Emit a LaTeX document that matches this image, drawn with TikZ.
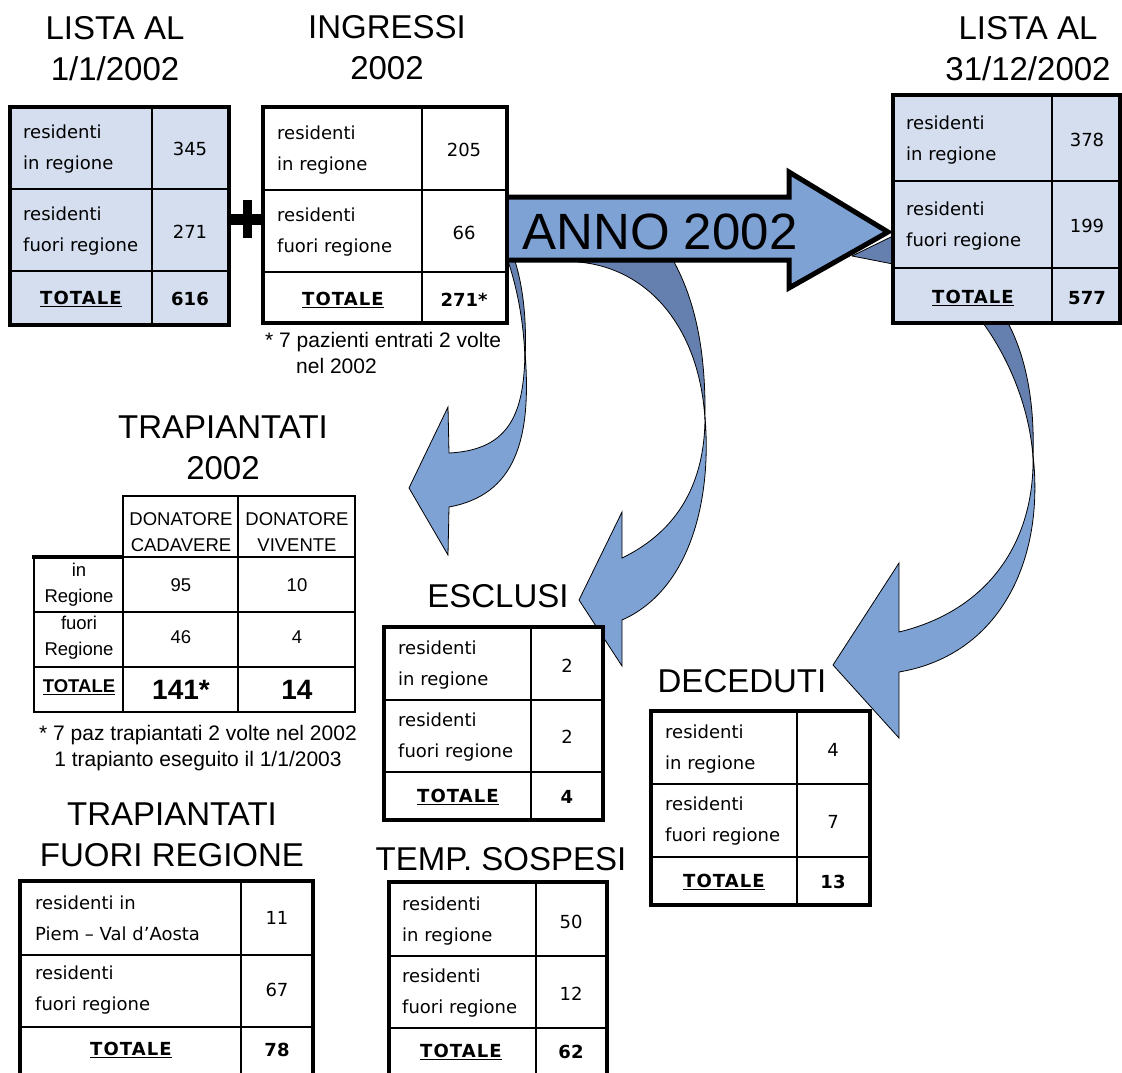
\documentclass[tikz,border=0pt]{standalone}
\usepackage{fontspec}
\setmainfont{Liberation Sans}
\newfontfamily\tabfont{DejaVu Sans}
\newfontfamily\totfont{DejaVu Sans}[LetterSpace=6]
\usetikzlibrary{calc}

\definecolor{tablefill}{HTML}{D4DEEF}
\definecolor{arrowblue}{HTML}{7FA2D5}
\definecolor{arrowdark}{HTML}{6580AE}

\begin{document}
\begin{tikzpicture}[x=1pt, y=-1pt]

\useasboundingbox (0, 0) rectangle (1122, 1073) ;

\tikzstyle{table border} = [line width=4pt, draw=black]
\tikzstyle{table rule} = [line width=1.5pt, draw=black]
\tikzstyle{trap rule} = [line width=2.5pt, draw=black]
\tikzstyle{title text} = [font=\fontsize{33}{41}\selectfont, align=center, inner sep=0pt]
\tikzstyle{cell text} = [font=\tabfont\fontsize{18}{31}\selectfont, align=left, anchor=west, inner sep=0pt]
\tikzstyle{cell number} = [font=\tabfont\fontsize{18}{18}\selectfont, inner sep=0pt]
\tikzstyle{cell total} = [font=\totfont\bfseries\fontsize{18}{18}\selectfont, inner sep=0pt]
\tikzstyle{total number} = [font=\tabfont\bfseries\fontsize{18}{18}\selectfont, inner sep=0pt]
\tikzstyle{trap text} = [font=\fontsize{18.5}{26}\selectfont, align=center, inner sep=0pt]
\tikzstyle{note text} = [font=\fontsize{21}{25.5}\selectfont, inner sep=0pt]

% curved arrows

\tikzstyle{bend back} = [fill=arrowdark, draw=black, line width=0.8pt, line join=round]
\tikzstyle{bend front} = [fill=arrowblue, draw=black, line width=0.8pt, line join=miter]

\filldraw [bend back] (507, 258) .. controls (518, 290) and (524, 325) .. (525, 360)
	.. controls (527, 320) and (523, 285) .. (514, 258) -- cycle ;
\filldraw [bend front] (525, 352) .. controls (524, 410) and (512, 450) .. (449, 453)
	-- (448, 407) -- (409, 488) -- (448, 555) -- (449, 507)
	.. controls (515, 495) and (532, 440) .. (525, 352) -- cycle ;

\filldraw [bend back] (578, 262) .. controls (650, 268) and (700, 330) .. (705, 420)
	.. controls (706, 350) and (695, 300) .. (673, 260) -- cycle ;
\filldraw [bend front] (705, 417) .. controls (705, 480) and (680, 530) .. (622, 558)
	-- (622, 512) -- (579, 600) -- (622, 666) -- (622, 620)
	.. controls (690, 590) and (712, 500) .. (705, 417) -- cycle ;

\filldraw [bend back] (983, 323) .. controls (1010, 360) and (1030, 410) .. (1033, 458)
	.. controls (1035, 400) and (1025, 355) .. (1008, 323) -- cycle ;
\filldraw [bend front] (1033, 455) .. controls (1035, 540) and (990, 610) .. (899, 632)
	-- (899, 563) -- (833, 665) -- (899, 738) -- (899, 672)
	.. controls (1000, 655) and (1045, 560) .. (1033, 455) -- cycle ;

\filldraw [bend back] (852, 256) -- (893, 264) -- (893, 236) -- cycle ;

% year arrow

\tikzstyle{year arrow} = [fill=arrowblue, draw=black, line width=5pt, line join=miter]

\filldraw [year arrow] (505, 197) -- (789, 197) -- (789, 172) -- (888, 232)
	-- (789, 288) -- (789, 260) -- (505, 260) -- cycle ;

\node [font=\fontsize{51}{51}\selectfont, inner sep=0pt] (anno) at (660, 232) {ANNO 2002} ;

% plus

\fill (229, 214) rectangle (263, 225) ;
\fill (243, 200) rectangle (252, 238) ;

% tables of residents

\newcommand{\residentgrid}[8]{
	\filldraw [table rule, fill=#1] (#2, #3) rectangle (#4, #8) ;
	\draw [table rule] (#5, #3) -- (#5, #8) ;
	\draw [table rule] (#2, #6) -- (#4, #6) ;
	\draw [table rule] (#2, #7) -- (#4, #7) ;
	\draw [table border] (#2, #3) rectangle (#4, #8) ;
}

\residentgrid{tablefill}{10}{107}{229}{152}{189}{271}{325}
\residentgrid{white}{263}{107}{507}{422}{190}{272}{323}
\residentgrid{tablefill}{893}{95}{1120}{1052}{181}{268}{323}
\residentgrid{white}{384}{627}{603}{531}{700}{772}{820}
\residentgrid{white}{651}{711}{870}{797}{784}{857}{905}
\residentgrid{white}{20}{881}{313}{241}{955}{1027}{1095}
\residentgrid{white}{389}{882}{607}{536}{956}{1028}{1095}

\foreach \tab/\xl/\xn/\xt/\ya/\yb/\yt/\na/\nb/\nt in {
		lista1/23/190/81/149/231.5/299/345/271/616,
		ingressi/277/464/343/150/232.5/300/205/66/271*,
		lista2/906/1087/973/140/226/298/378/199/577,
		esclusi/398/567/458/665.5/737/797/2/2/4,
		deceduti/665/833/724/749.5/821.5/882/4/7/13,
		sospesi/402/571/461/921.5/993.5/1052/50/12/62} {
	\node [cell text] (\tab-in) at (\xl, \ya) {residenti\\in regione} ;
	\node [cell text] (\tab-out) at (\xl, \yb) {residenti\\fuori regione} ;
	\node [cell total] (\tab-tot) at (\xt, \yt) {\underline{TOTALE}} ;
	\node [cell number] (\tab-in-n) at (\xn, \ya) {\na} ;
	\node [cell number] (\tab-out-n) at (\xn, \yb) {\nb} ;
	\node [total number] (\tab-tot-n) at (\xn, \yt) {\nt} ;
}

\node [cell text] (fuorireg-in) at (35, 918) {residenti in\\Piem – Val d’Aosta} ;
\node [cell text] (fuorireg-out) at (35, 990.5) {residenti\\fuori regione} ;
\node [cell total] (fuorireg-tot) at (131, 1050) {\underline{TOTALE}} ;
\node [cell number] (fuorireg-in-n) at (277, 918) {11} ;
\node [cell number] (fuorireg-out-n) at (277, 990) {67} ;
\node [total number] (fuorireg-tot-n) at (277, 1050) {78} ;

% titles

\node [title text] (lista1-title) at (115, 49) {LISTA AL\\1/1/2002} ;
\node [title text] (ingressi-title) at (387, 47.5) {INGRESSI\\2002} ;
\node [title text] (lista2-title) at (1028, 49) {LISTA AL\\31/12/2002} ;
\node [title text] (trap-title) at (223, 448) {TRAPIANTATI\\2002} ;
\node [title text] (fuorireg-title) at (172, 835) {TRAPIANTATI\\FUORI REGIONE} ;
\node [title text] (esclusi-title) at (498, 596) {ESCLUSI} ;
\node [title text] (deceduti-title) at (742, 681) {DECEDUTI} ;
\node [title text] (sospesi-title) at (501, 859) {TEMP. SOSPESI} ;

% notes

\node [note text, align=left, anchor=west] (ingressi-note) at (265, 353)
	{* 7 pazienti entrati 2 volte\\\hspace*{31pt}nel 2002} ;
\node [note text, align=center] (trap-note) at (198, 748)
	{* 7 paz trapiantati 2 volte nel 2002\\1 trapianto eseguito il 1/1/2003} ;

% transplants table

\draw [trap rule] (123, 496) rectangle (355, 712) ;
\draw [trap rule] (34, 557) rectangle (123, 712) ;
\draw [trap rule] (238, 496) -- (238, 712) ;
\draw [trap rule] (123, 557) -- (355, 557) ;
\draw [trap rule] (34, 612) -- (355, 612) ;
\draw [trap rule] (34, 667) -- (355, 667) ;
\draw [line width=4.5pt] (32, 557) -- (123, 557) ;

\node [trap text] (trap-cad) at (181, 532) {DONATORE\\CADAVERE} ;
\node [trap text] (trap-viv) at (297, 532) {DONATORE\\VIVENTE} ;
\node [trap text] (trap-in) at (79, 585) {in\\Regione} ;
\node [trap text] (trap-out) at (79, 638) {fuori\\Regione} ;
\node [trap text, font=\bfseries\fontsize{18.5}{26}\selectfont] (trap-tot) at (79, 687) {\underline{TOTALE}} ;
\node [trap text] (trap-in-cad) at (181, 585) {95} ;
\node [trap text] (trap-in-viv) at (297, 585) {10} ;
\node [trap text] (trap-out-cad) at (181, 637) {46} ;
\node [trap text] (trap-out-viv) at (297, 637) {4} ;
\node [trap text, font=\bfseries\fontsize{28}{28}\selectfont] (trap-tot-cad) at (181, 690) {141*} ;
\node [trap text, font=\bfseries\fontsize{28}{28}\selectfont] (trap-tot-viv) at (297, 690) {14} ;

\end{tikzpicture}
\end{document}
